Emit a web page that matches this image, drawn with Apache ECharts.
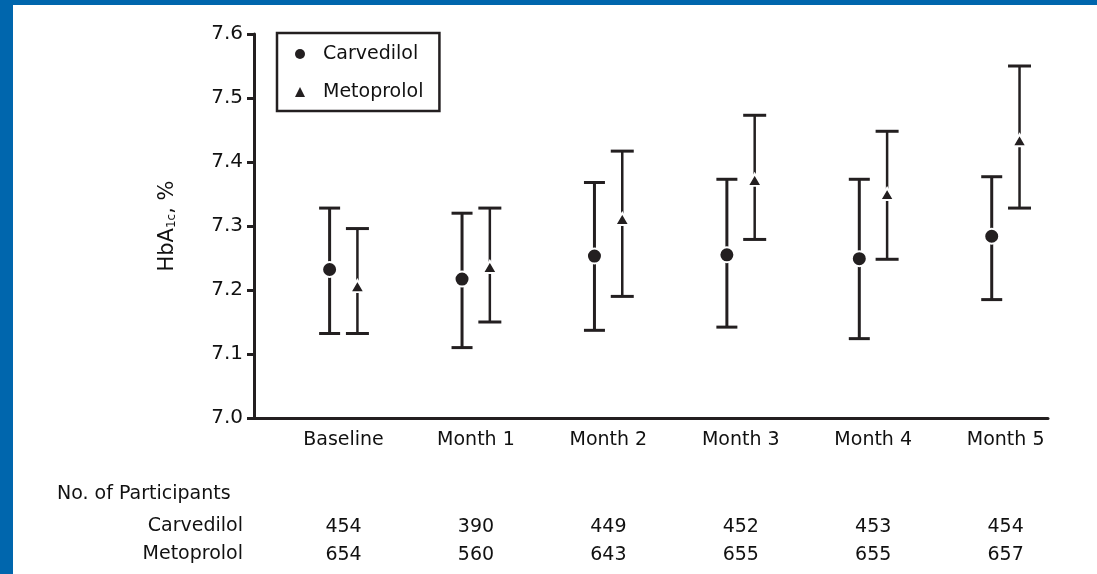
<!DOCTYPE html>
<html>
<head>
<meta charset="utf-8">
<script src="https://cdn.jsdelivr.net/npm/echarts@6/dist/echarts.min.js"></script>
<style>
  html, body { margin: 0; padding: 0; background: #ffffff; }
  #chart { width: 1097px; height: 574px; }
</style>
</head>
<body>
<div id="chart"></div>
<script>
const categories = ['Baseline', 'Month 1', 'Month 2', 'Month 3', 'Month 4', 'Month 5'];
const yTicks = [7.0, 7.1, 7.2, 7.3, 7.4, 7.5, 7.6];

const carvMean = [7.232, 7.217, 7.253, 7.255, 7.249, 7.284];
const carvLow  = [7.132, 7.110, 7.137, 7.142, 7.124, 7.185];
const carvHigh = [7.328, 7.320, 7.368, 7.373, 7.373, 7.377];

const metoMean = [7.206, 7.236, 7.311, 7.372, 7.350, 7.434];
const metoLow  = [7.132, 7.150, 7.190, 7.279, 7.248, 7.328];
const metoHigh = [7.296, 7.328, 7.417, 7.473, 7.448, 7.550];

const carvN = [454, 390, 449, 452, 453, 454];
const metoN = [654, 560, 643, 655, 655, 657];

const INK = '#231f20';
const TXT = '#111111';
const FONT = 'DejaVu Sans';
const CARV_OFF = -0.105;
const METO_OFF = 0.105;
const catIdx = categories.map((c, i) => i);

function errBar(lineW, halfCap) {
  return function (params, api) {
    const x = api.value(0);
    const lo = api.coord([x, api.value(1)]);
    const hi = api.coord([x, api.value(2)]);
    return {
      type: 'group',
      children: [
        { type: 'line', shape: { x1: lo[0], y1: lo[1], x2: hi[0], y2: hi[1] },
          style: { stroke: INK, lineWidth: lineW } },
        { type: 'line', shape: { x1: hi[0] - halfCap, y1: hi[1], x2: hi[0] + halfCap, y2: hi[1] },
          style: { stroke: INK, lineWidth: 3 } },
        { type: 'line', shape: { x1: lo[0] - halfCap, y1: lo[1], x2: lo[0] + halfCap, y2: lo[1] },
          style: { stroke: INK, lineWidth: 3 } }
      ]
    };
  };
}

function countAxis(values, margin) {
  return {
    type: 'value', gridIndex: 0, position: 'bottom',
    min: -0.676, max: 5.32,
    axisLine: { show: false }, axisTick: { show: false }, splitLine: { show: false },
    axisLabel: {
      customValues: catIdx, margin: margin, verticalAlign: 'middle',
      color: TXT, fontFamily: FONT, fontSize: 19,
      formatter: v => { const i = Math.round(v); return values[i] !== undefined ? String(values[i]) : ''; }
    }
  };
}

const chart = echarts.init(document.getElementById('chart'), null, { renderer: 'canvas' });
chart.setOption({
  animation: false,
  backgroundColor: '#ffffff',
  grid: { left: 254, right: 49, top: 34, bottom: 156, containLabel: false },
  legend: {
    data: [
      { name: 'Carvedilol', icon: 'circle' },
      { name: 'Metoprolol', icon: 'triangle' }
    ],
    orient: 'vertical', left: 277, top: 33,
    itemWidth: 10, itemHeight: 10, itemGap: 18,
    padding: [11, 16, 9, 18],
    borderColor: INK, borderWidth: 2.5,
    itemStyle: { borderWidth: 0, opacity: 1 },
    textStyle: { color: TXT, fontFamily: FONT, fontSize: 19, lineHeight: 20, padding: [0, 0, 0, 13] }
  },
  xAxis: [
    {
      type: 'value', gridIndex: 0, position: 'bottom',
      min: -0.676, max: 5.32,
      axisLine: { show: true, onZero: false, lineStyle: { color: INK, width: 3 } },
      axisTick: { show: false }, splitLine: { show: false },
      axisLabel: {
        customValues: catIdx, margin: 22, verticalAlign: 'middle',
        color: TXT, fontFamily: FONT, fontSize: 19,
        formatter: v => { const i = Math.round(v); return categories[i] || ''; }
      }
    },
    countAxis(carvN, 109),
    countAxis(metoN, 137)
  ],
  yAxis: {
    type: 'value', min: yTicks[0], max: yTicks[yTicks.length - 1], interval: 0.1,
    name: '{m|HbA}{s|1c}{m|, %}', nameLocation: 'middle', nameGap: 76, nameRotate: 90,
    nameTextStyle: {
      rich: {
        m: { fontFamily: FONT, fontSize: 21, color: TXT },
        s: { fontFamily: FONT, fontSize: 12, color: TXT, verticalAlign: 'bottom', padding: [8, 0, 0, 0] }
      }
    },
    axisLine: { show: true, onZero: false, lineStyle: { color: INK, width: 3 } },
    axisTick: { show: true, inside: false, length: 7, lineStyle: { color: INK, width: 3 } },
    splitLine: { show: false },
    axisLabel: { color: TXT, fontFamily: FONT, fontSize: 20, margin: 11, formatter: v => v.toFixed(1) }
  },
  series: [
    {
      name: 'Carvedilol CI', type: 'custom', xAxisIndex: 0, z: 2,
      renderItem: errBar(3, 10.5),
      encode: { x: 0, y: [1, 2] },
      data: catIdx.map(i => [i + CARV_OFF, carvLow[i], carvHigh[i]])
    },
    {
      name: 'Metoprolol CI', type: 'custom', xAxisIndex: 0, z: 2,
      renderItem: errBar(2.5, 11.5),
      encode: { x: 0, y: [1, 2] },
      data: catIdx.map(i => [i + METO_OFF, metoLow[i], metoHigh[i]])
    },
    {
      name: 'Carvedilol', type: 'scatter', xAxisIndex: 0, z: 5,
      symbol: 'circle', symbolSize: 15,
      itemStyle: { color: INK, opacity: 1, borderColor: '#ffffff', borderWidth: 2 },
      data: catIdx.map(i => [i + CARV_OFF, carvMean[i]])
    },
    {
      name: 'Metoprolol', type: 'scatter', xAxisIndex: 0, z: 5,
      symbol: 'triangle', symbolSize: [14, 12],
      itemStyle: { color: INK, opacity: 1, borderColor: '#ffffff', borderWidth: 2 },
      data: catIdx.map(i => [i + METO_OFF, metoMean[i]])
    }
  ],
  graphic: [
    { type: 'rect', left: 0, top: 0, shape: { width: 13, height: 574 }, style: { fill: '#0066ad' }, z: 100 },
    { type: 'rect', left: 0, top: 0, shape: { width: 1097, height: 5 }, style: { fill: '#0066ad' }, z: 100 },
    { type: 'text', left: 57, top: 493 - 8,
      style: { text: 'No. of Participants', fill: TXT, font: '19px "DejaVu Sans"' } },
    { type: 'text', right: 1097 - 243, top: 525 - 8,
      style: { text: 'Carvedilol', fill: TXT, font: '19px "DejaVu Sans"', align: 'right' } },
    { type: 'text', right: 1097 - 243, top: 553 - 8,
      style: { text: 'Metoprolol', fill: TXT, font: '19px "DejaVu Sans"', align: 'right' } }
  ]
});
</script>
</body>
</html>
